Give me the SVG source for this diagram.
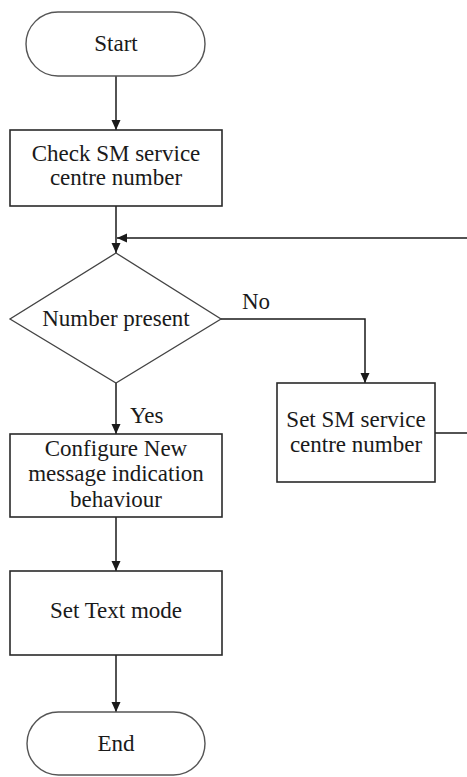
<svg xmlns="http://www.w3.org/2000/svg" width="467" height="777" viewBox="0 0 467 777">
  <defs>
    <marker id="arrow" markerUnits="userSpaceOnUse" markerWidth="10" markerHeight="10" refX="10" refY="4.5" orient="auto">
      <path d="M0,0 L10,4.5 L0,9 z" fill="#1a1a1a"/>
    </marker>
    <style>
      .shape { fill: #ffffff; stroke: #2a2a2a; stroke-width: 1.6; }
      .term { fill: #ffffff; stroke: #555555; stroke-width: 1.4; }
      .edge { fill: none; stroke: #1a1a1a; stroke-width: 1.5; }
      .lbl { font-family: "Liberation Serif", "Times New Roman", serif; font-size: 23px; fill: #1a1a1a; text-anchor: middle; }
      .side { font-family: "Liberation Serif", "Times New Roman", serif; font-size: 23px; fill: #1a1a1a; }
    </style>
  </defs>
  <rect width="467" height="777" fill="#ffffff"/>

  <g id="connectors">
    <line class="edge" x1="116" y1="76" x2="116" y2="130" marker-end="url(#arrow)"/>
    <line class="edge" x1="116" y1="206" x2="116" y2="253" marker-end="url(#arrow)"/>
    <line class="edge" x1="467" y1="238" x2="117" y2="238" marker-end="url(#arrow)"/>
    <path class="edge" d="M221,319 H365 V383" marker-end="url(#arrow)"/>
    <line class="edge" x1="435" y1="433" x2="467" y2="433"/>
    <line class="edge" x1="116" y1="383" x2="116" y2="434" marker-end="url(#arrow)"/>
    <line class="edge" x1="116" y1="517" x2="116" y2="571" marker-end="url(#arrow)"/>
    <line class="edge" x1="116" y1="655" x2="116" y2="712" marker-end="url(#arrow)"/>
    <text class="side" x="242" y="309">No</text>
    <text class="side" x="130" y="423">Yes</text>
  </g>

  <g id="start">
    <rect class="term" x="26" y="12" width="179" height="64" rx="32" ry="32"/>
    <text class="lbl" x="116" y="51">Start</text>
  </g>

  <g id="check-number">
    <rect class="shape" x="10" y="130" width="212" height="76"/>
    <text class="lbl" x="116" y="161">Check SM service</text>
    <text class="lbl" x="116" y="185">centre number</text>
  </g>

  <g id="number-present">
    <polygon class="shape" points="116,253 221,319 116,383 10,319" style="stroke:#444;stroke-width:1.3"/>
    <text class="lbl" x="116" y="326">Number present</text>
  </g>

  <g id="set-number">
    <rect class="shape" x="277" y="383" width="158" height="99"/>
    <text class="lbl" x="356" y="427">Set SM service</text>
    <text class="lbl" x="356" y="452">centre number</text>
  </g>

  <g id="configure-indication">
    <rect class="shape" x="10" y="434" width="212" height="83"/>
    <text class="lbl" x="116" y="456">Configure New</text>
    <text class="lbl" x="116" y="481">message indication</text>
    <text class="lbl" x="116" y="507">behaviour</text>
  </g>

  <g id="set-text-mode">
    <rect class="shape" x="10" y="571" width="212" height="84"/>
    <text class="lbl" x="116" y="618">Set Text mode</text>
  </g>

  <g id="end">
    <rect class="term" x="27" y="712" width="178" height="63" rx="31.5" ry="31.5"/>
    <text class="lbl" x="116" y="751">End</text>
  </g>
</svg>
